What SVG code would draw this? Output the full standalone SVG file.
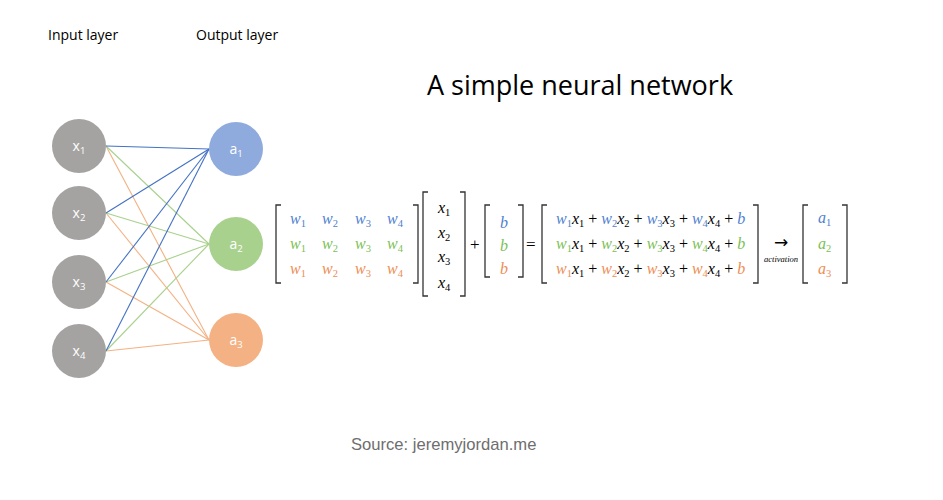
<svg xmlns="http://www.w3.org/2000/svg" width="943" height="500" viewBox="0 0 943 500">
<style>
.lbl{font-family:"Open Sans","Liberation Sans",sans-serif;font-size:14px;fill:#000}
.title{font-family:"Open Sans","Liberation Sans",sans-serif;font-size:27px;fill:#000}
.src{font-family:"Liberation Sans",Arial,sans-serif;font-size:16.6px;fill:#6e6e6e}
.nt{font-family:"Open Sans","Liberation Sans",sans-serif;font-size:14px;fill:#fff;text-anchor:middle}
.sub{font-size:9.5px}
.m{font-family:"Liberation Serif","Times New Roman",serif;font-size:16px;font-style:italic}
.ms{font-size:10.5px;font-style:normal}
.pl{font-style:normal}
.op{font-family:"Liberation Serif","Times New Roman",serif;font-size:17px;fill:#000}
.blue{fill:#4f7fd0}.green{fill:#7bbf55}.orange{fill:#ee8d55}.blk{fill:#000}
.br{fill:none;stroke:#333;stroke-width:1.3}
.lb{stroke:#4472c4;stroke-width:1.1}.lg{stroke:#a9d18e;stroke-width:1.1}.lo{stroke:#f4b183;stroke-width:1.1}
</style>
<rect width="943" height="500" fill="#fff"/>
<text class="lbl" x="48" y="40">Input layer</text>
<text class="lbl" x="196" y="40">Output layer</text>
<text class="title" x="580" y="95" text-anchor="middle">A simple neural network</text>

<g id="connectors">
<line class="lo" x1="106" y1="146" x2="209" y2="340"/>
<line class="lo" x1="106" y1="213" x2="209" y2="340"/>
<line class="lo" x1="106" y1="282" x2="209" y2="340"/>
<line class="lo" x1="106" y1="351" x2="209" y2="340"/>
<line class="lg" x1="106" y1="146" x2="209" y2="244"/>
<line class="lg" x1="106" y1="213" x2="209" y2="244"/>
<line class="lg" x1="106" y1="282" x2="209" y2="244"/>
<line class="lg" x1="106" y1="351" x2="209" y2="244"/>
<line class="lb" x1="106" y1="146" x2="209" y2="149"/>
<line class="lb" x1="106" y1="213" x2="209" y2="149"/>
<line class="lb" x1="106" y1="282" x2="209" y2="149"/>
<line class="lb" x1="106" y1="351" x2="209" y2="149"/>
</g>

<g id="x1"><circle cx="79" cy="146" r="27" fill="#a5a3a2"/><text class="nt" x="79" y="151">x<tspan class="sub" dy="3">1</tspan></text></g>
<g id="x2"><circle cx="79" cy="213" r="27" fill="#a5a3a2"/><text class="nt" x="79" y="218">x<tspan class="sub" dy="3">2</tspan></text></g>
<g id="x3"><circle cx="79" cy="282" r="27" fill="#a5a3a2"/><text class="nt" x="79" y="287">x<tspan class="sub" dy="3">3</tspan></text></g>
<g id="x4"><circle cx="79" cy="351" r="27" fill="#a5a3a2"/><text class="nt" x="79" y="356">x<tspan class="sub" dy="3">4</tspan></text></g>
<g id="a1"><circle cx="236" cy="149" r="27" fill="#8faadc"/><text class="nt" x="236" y="154">a<tspan class="sub" dy="3">1</tspan></text></g>
<g id="a2"><circle cx="236" cy="244" r="27" fill="#a9d18e"/><text class="nt" x="236" y="249">a<tspan class="sub" dy="3">2</tspan></text></g>
<g id="a3"><circle cx="236" cy="340" r="27" fill="#f4b183"/><text class="nt" x="236" y="345">a<tspan class="sub" dy="3">3</tspan></text></g>

<g id="equation">
<path class="br" d="M281,205 H276 V283 H281"/>
<path class="br" d="M413,205 H418 V283 H413"/>
<g class="m">
<text class="blue" x="290" y="224">w<tspan class="ms" dy="3">1</tspan></text>
<text class="blue" x="322" y="224">w<tspan class="ms" dy="3">2</tspan></text>
<text class="blue" x="355" y="224">w<tspan class="ms" dy="3">3</tspan></text>
<text class="blue" x="387" y="224">w<tspan class="ms" dy="3">4</tspan></text>
<text class="green" x="290" y="249">w<tspan class="ms" dy="3">1</tspan></text>
<text class="green" x="322" y="249">w<tspan class="ms" dy="3">2</tspan></text>
<text class="green" x="355" y="249">w<tspan class="ms" dy="3">3</tspan></text>
<text class="green" x="387" y="249">w<tspan class="ms" dy="3">4</tspan></text>
<text class="orange" x="290" y="274">w<tspan class="ms" dy="3">1</tspan></text>
<text class="orange" x="322" y="274">w<tspan class="ms" dy="3">2</tspan></text>
<text class="orange" x="355" y="274">w<tspan class="ms" dy="3">3</tspan></text>
<text class="orange" x="387" y="274">w<tspan class="ms" dy="3">4</tspan></text>
</g>
<path class="br" d="M428,192 H423 V296 H428"/>
<path class="br" d="M460,192 H465 V296 H460"/>
<g class="m blk">
<text x="438" y="213">x<tspan class="ms" dy="3">1</tspan></text>
<text x="438" y="238">x<tspan class="ms" dy="3">2</tspan></text>
<text x="438" y="262">x<tspan class="ms" dy="3">3</tspan></text>
<text x="438" y="288">x<tspan class="ms" dy="3">4</tspan></text>
</g>
<text class="op" x="470" y="250">+</text>
<path class="br" d="M490,205 H485 V277 H490"/>
<path class="br" d="M518,205 H523 V277 H518"/>
<g class="m">
<text class="blue" x="500" y="228">b</text>
<text class="green" x="500" y="251">b</text>
<text class="orange" x="500" y="274">b</text>
</g>
<text class="op" x="526" y="250">=</text>
<path class="br" d="M547,205 H542 V283 H547"/>
<path class="br" d="M753,205 H758 V283 H753"/>
<g class="m">
<text x="556" y="224"><tspan class="blue">w<tspan class="ms" dy="3">1</tspan></tspan><tspan class="blk" dy="-3">x</tspan><tspan class="blk ms" dy="3">1</tspan><tspan class="blk pl" dy="-3"> + </tspan><tspan class="blue">w<tspan class="ms" dy="3">2</tspan></tspan><tspan class="blk" dy="-3">x</tspan><tspan class="blk ms" dy="3">2</tspan><tspan class="blk pl" dy="-3"> + </tspan><tspan class="blue">w<tspan class="ms" dy="3">3</tspan></tspan><tspan class="blk" dy="-3">x</tspan><tspan class="blk ms" dy="3">3</tspan><tspan class="blk pl" dy="-3"> + </tspan><tspan class="blue">w<tspan class="ms" dy="3">4</tspan></tspan><tspan class="blk" dy="-3">x</tspan><tspan class="blk ms" dy="3">4</tspan><tspan class="blk pl" dy="-3"> + </tspan><tspan class="blue">b</tspan></text>
<text x="556" y="249"><tspan class="green">w<tspan class="ms" dy="3">1</tspan></tspan><tspan class="blk" dy="-3">x</tspan><tspan class="blk ms" dy="3">1</tspan><tspan class="blk pl" dy="-3"> + </tspan><tspan class="green">w<tspan class="ms" dy="3">2</tspan></tspan><tspan class="blk" dy="-3">x</tspan><tspan class="blk ms" dy="3">2</tspan><tspan class="blk pl" dy="-3"> + </tspan><tspan class="green">w<tspan class="ms" dy="3">3</tspan></tspan><tspan class="blk" dy="-3">x</tspan><tspan class="blk ms" dy="3">3</tspan><tspan class="blk pl" dy="-3"> + </tspan><tspan class="green">w<tspan class="ms" dy="3">4</tspan></tspan><tspan class="blk" dy="-3">x</tspan><tspan class="blk ms" dy="3">4</tspan><tspan class="blk pl" dy="-3"> + </tspan><tspan class="green">b</tspan></text>
<text x="556" y="274"><tspan class="orange">w<tspan class="ms" dy="3">1</tspan></tspan><tspan class="blk" dy="-3">x</tspan><tspan class="blk ms" dy="3">1</tspan><tspan class="blk pl" dy="-3"> + </tspan><tspan class="orange">w<tspan class="ms" dy="3">2</tspan></tspan><tspan class="blk" dy="-3">x</tspan><tspan class="blk ms" dy="3">2</tspan><tspan class="blk pl" dy="-3"> + </tspan><tspan class="orange">w<tspan class="ms" dy="3">3</tspan></tspan><tspan class="blk" dy="-3">x</tspan><tspan class="blk ms" dy="3">3</tspan><tspan class="blk pl" dy="-3"> + </tspan><tspan class="orange">w<tspan class="ms" dy="3">4</tspan></tspan><tspan class="blk" dy="-3">x</tspan><tspan class="blk ms" dy="3">4</tspan><tspan class="blk pl" dy="-3"> + </tspan><tspan class="orange">b</tspan></text>
</g>
<text x="781" y="248" text-anchor="middle" style="font-family:'DejaVu Sans',sans-serif;font-size:17px;fill:#000">→</text>
<text x="781" y="262" text-anchor="middle" style="font-family:'Liberation Serif',serif;font-style:italic;font-size:8.5px;fill:#000">activation</text>
<path class="br" d="M808,205 H803 V283 H808"/>
<path class="br" d="M842,205 H847 V283 H842"/>
<g class="m">
<text class="blue" x="818" y="223">a<tspan class="ms" dy="3">1</tspan></text>
<text class="green" x="818" y="249">a<tspan class="ms" dy="3">2</tspan></text>
<text class="orange" x="818" y="274">a<tspan class="ms" dy="3">3</tspan></text>
</g>
</g>

<text class="src" x="351" y="450">Source: jeremyjordan.me</text>
</svg>
